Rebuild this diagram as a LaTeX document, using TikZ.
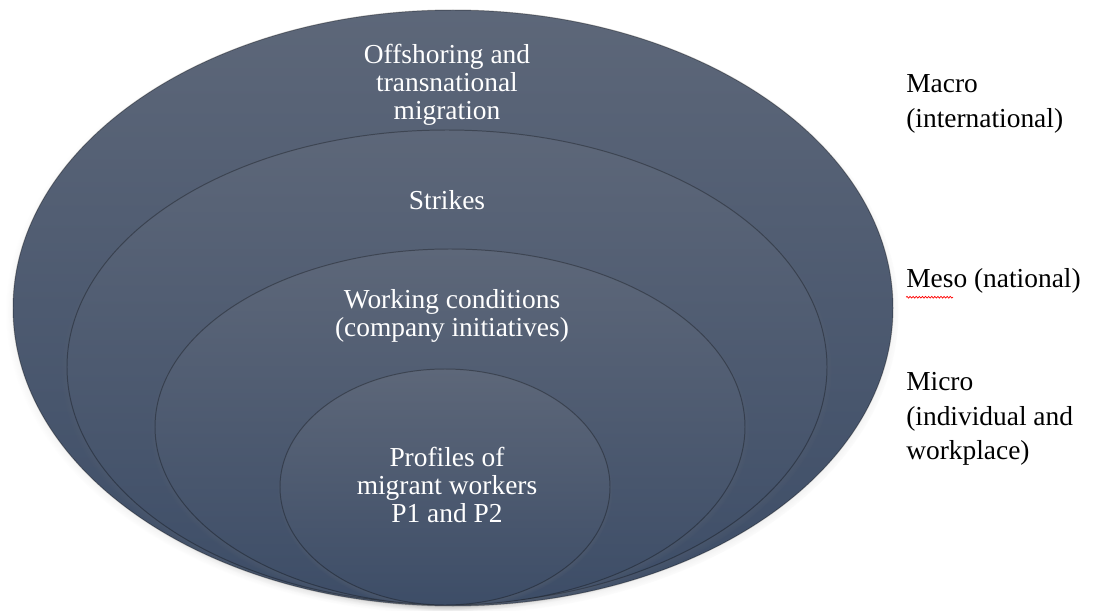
\documentclass[tikz,border=0pt]{standalone}
\usepackage{fontspec}
\setmainfont{Liberation Serif}
\usetikzlibrary{shadows, decorations.pathmorphing}

\definecolor{slatetop}{RGB}{93,103,121}
\definecolor{slatebot}{RGB}{61,77,103}

\tikzset{ring/.style={
    top color=slatetop, bottom color=slatebot,
    draw=black, draw opacity=0.3, line width=0.7pt,
    circular drop shadow={opacity=0.6, shadow xshift=0pt, shadow yshift=-2.5pt, shadow scale=1.015}
}}
\tikzset{inner text/.style={text=white, align=center, font=\fontsize{19.5}{20}\selectfont}}
\tikzset{scale text/.style={anchor=west, align=left, inner sep=0pt, font=\fontsize{19.5}{24.5}\selectfont}}

\begin{document}
\begin{tikzpicture}[x=0.025cm, y=-0.025cm]
\useasboundingbox (0,0) rectangle (1093,611);

%rings, outside in
\shade[ring] (453,308) ellipse [x radius=440, y radius=298];
\shade[ring] (447,367) ellipse [x radius=380, y radius=237];
\shade[ring] (450,427) ellipse [x radius=295, y radius=178];
\shade[ring] (445,487) ellipse [x radius=165, y radius=118];

%ring texts
\node[inner text] (offshoring) at (447,85) {Offshoring and\\transnational\\migration};
\node[inner text] (strikes) at (447,200) {Strikes};
\node[inner text] (conditions) at (452,316) {Working conditions\\(company initiatives)};
\node[inner text] (profiles) at (447,485) {Profiles of\\migrant workers\\P1 and P2};

%levels on the right
\node[scale text] (macro) at (906,104) {Macro\\(international)};
\node[scale text] (meso) at (906,281) {Meso (national)};
    \draw[red, line width=0.5pt, decoration={snake, amplitude=0.6pt, segment length=2.2pt}, decorate]
        ([yshift=-2.5pt]meso.south west) -- ++(47,0);
\node[scale text] (micro) at (906,419) {Micro\\(individual and\\workplace)};

\end{tikzpicture}
\end{document}
